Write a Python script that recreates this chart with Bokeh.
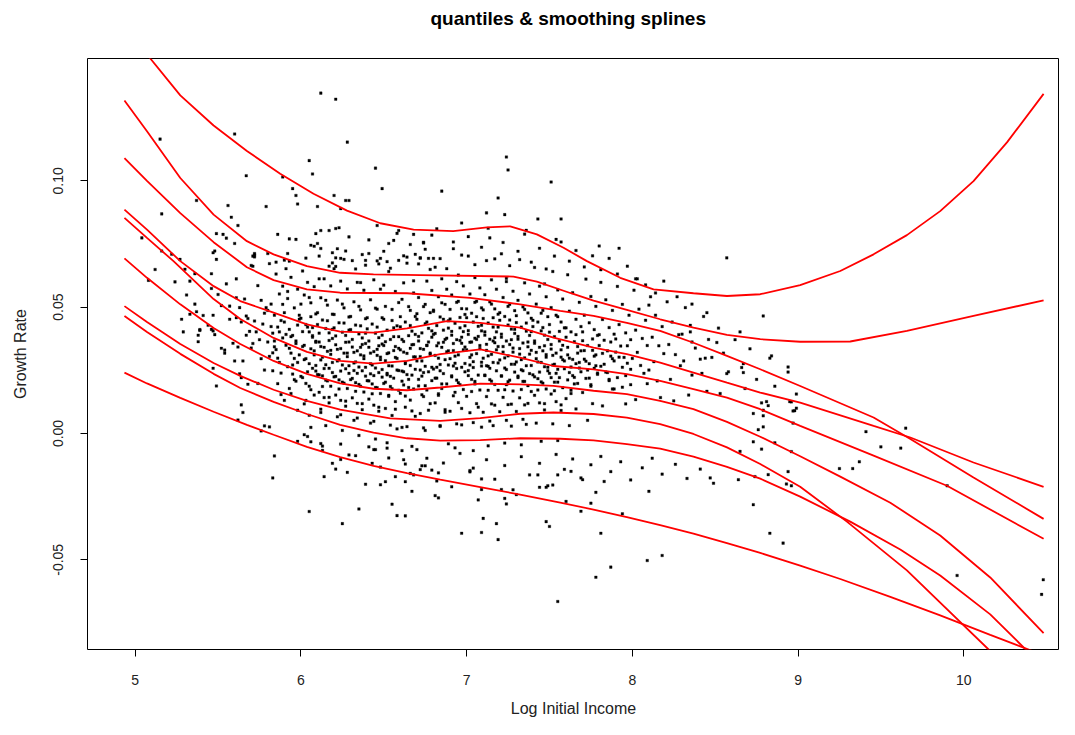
from bokeh.plotting import figure
from bokeh.models import FixedTicker, PrintfTickFormatter
from bokeh.embed import file_html
from bokeh.resources import INLINE

# ---------------- quantile smoothing spline curves ----------------
sa_x = [4.93, 5.091, 5.272, 5.473, 5.674, 5.875, 6.076, 6.278, 6.479, 6.680, 6.919, 7.123, 7.263, 7.424, 7.585,
        7.726, 7.927, 8.128, 8.369, 8.571, 8.772, 9.013, 9.255, 9.456, 9.657, 9.858, 10.059, 10.261, 10.482]
sa_y = [0.1634, 0.1484, 0.1338, 0.1219, 0.1118, 0.1028, 0.0949, 0.0882, 0.0832, 0.0807, 0.0801, 0.0816, 0.0820, 0.0788, 0.0735,
        0.0682, 0.0616, 0.0570, 0.0555, 0.0544, 0.0551, 0.0587, 0.0643, 0.0709, 0.0785, 0.0880, 0.0999, 0.1152, 0.1344]

sb_x = [4.935, 5.071, 5.272, 5.473, 5.674, 5.835, 6.036, 6.237, 6.438, 6.720, 7.283, 7.424, 7.625, 7.766, 7.967,
        8.168, 8.369, 8.571, 8.772, 9.013, 9.315, 9.657, 10.059, 10.482]
sb_y = [0.1318, 0.1196, 0.1011, 0.0866, 0.0761, 0.0709, 0.0662, 0.0636, 0.0630, 0.0627, 0.0621, 0.0601, 0.0556, 0.0526, 0.0489,
        0.0452, 0.0419, 0.0390, 0.0373, 0.0363, 0.0364, 0.0406, 0.0465, 0.0527]

sc_x = [4.935, 5.071, 5.272, 5.473, 5.674, 5.835, 6.036, 6.237, 6.640, 7.022, 7.323, 7.565, 7.766, 7.967, 8.168,
        8.369, 8.571, 8.772, 9.013, 9.456, 9.678, 10.059, 10.482]
sc_y = [0.1090, 0.1000, 0.0872, 0.0757, 0.0658, 0.0607, 0.0570, 0.0557, 0.0555, 0.0537, 0.0511, 0.0485, 0.0465, 0.0438, 0.0406,
        0.0359, 0.0307, 0.0254, 0.0188, 0.0063, -0.0022, -0.0174, -0.0338]

sd_x = [4.935, 5.071, 5.272, 5.473, 5.634, 5.835, 6.036, 6.237, 6.438, 6.640, 6.881, 7.082, 7.323, 7.524, 7.766,
        7.967, 8.168, 8.369, 8.571, 8.772, 9.013, 9.456, 9.678, 10.059, 10.482]
sd_y = [0.0886, 0.0807, 0.0682, 0.0583, 0.0524, 0.0478, 0.0432, 0.0403, 0.0399, 0.0416, 0.0445, 0.0438, 0.0419, 0.0379, 0.0340,
        0.0314, 0.0280, 0.0241, 0.0201, 0.0162, 0.0122, 0.0030, -0.0016, -0.0115, -0.0211]

se_x = [4.935, 5.071, 5.231, 5.473, 5.634, 5.835, 6.036, 6.237, 6.438, 6.640, 6.841, 7.082, 7.323, 7.524, 7.766,
        7.967, 8.168, 8.369, 8.571, 8.772, 9.013, 9.456, 9.899, 10.482]
se_y = [0.0853, 0.0774, 0.0682, 0.0532, 0.0453, 0.0378, 0.0323, 0.0287, 0.0276, 0.0287, 0.0314, 0.0333, 0.0300, 0.0267, 0.0254,
        0.0235, 0.0208, 0.0175, 0.0142, 0.0096, 0.0030, -0.0088, -0.0207, -0.0417]

sf_x = [4.935, 5.071, 5.272, 5.473, 5.634, 5.835, 6.036, 6.237, 6.438, 6.640, 6.841, 7.082, 7.323, 7.524, 7.766,
        7.967, 8.168, 8.369, 8.571, 8.772, 9.013, 9.255, 9.557, 9.858, 10.160, 10.482]
sf_y = [0.0693, 0.0616, 0.0511, 0.0417, 0.0354, 0.0287, 0.0236, 0.0198, 0.0177, 0.0171, 0.0182, 0.0197, 0.0194, 0.0188, 0.0169,
        0.0156, 0.0129, 0.0096, 0.0046, -0.0013, -0.0090, -0.0171, -0.0274, -0.0404, -0.0570, -0.0790]

sg_x = [4.935, 5.071, 5.272, 5.473, 5.634, 5.835, 6.036, 6.237, 6.539, 6.841, 7.082, 7.323, 7.524, 7.766, 7.967,
        8.168, 8.369, 8.571, 8.772, 9.013, 9.295, 9.657, 10.150, 10.482]
sg_y = [0.0504, 0.0441, 0.0354, 0.0279, 0.0228, 0.0173, 0.0129, 0.0094, 0.0060, 0.0050, 0.0061, 0.0078, 0.0083, 0.0077, 0.0063,
        0.0037, -0.0002, -0.0055, -0.0121, -0.0211, -0.0349, -0.0542, -0.0855, -0.1068]

sh_x = [4.935, 5.071, 5.272, 5.473, 5.634, 5.835, 6.036, 6.237, 6.438, 6.640, 6.841, 7.082, 7.323, 7.565, 7.766,
        7.967, 8.168, 8.369, 8.571, 8.772, 9.013, 9.315, 9.617, 9.858, 10.160, 10.482]
sh_y = [0.0465, 0.0402, 0.0315, 0.0236, 0.0180, 0.0125, 0.0077, 0.0034, 0.0003, -0.0019, -0.0028, -0.0026, -0.0019, -0.0021, -0.0027,
        -0.0042, -0.0060, -0.0092, -0.0132, -0.0179, -0.0250, -0.0349, -0.0459, -0.0562, -0.0716, -0.0925]

si_x = [4.935, 5.071, 5.272, 5.473, 5.674, 5.835, 6.036, 6.237, 6.438, 6.640, 6.841, 7.082, 7.323, 7.565, 7.766,
        7.967, 8.168, 8.369, 8.571, 8.772, 9.013, 9.255, 9.557, 9.858, 10.160, 10.482]
si_y = [0.0241, 0.0198, 0.0141, 0.0086, 0.0034, -0.0005, -0.0053, -0.0094, -0.0128, -0.0157, -0.0183, -0.0212, -0.0242, -0.0274, -0.0301,
        -0.0331, -0.0363, -0.0396, -0.0434, -0.0473, -0.0523, -0.0576, -0.0647, -0.0720, -0.0797, -0.0878]

curves = [(sa_x, sa_y), (sb_x, sb_y), (sc_x, sc_y), (sd_x, sd_y), (se_x, se_y),
          (sf_x, sf_y), (sg_x, sg_y), (sh_x, sh_y), (si_x, si_y)]

# ---------------- scatter points: (log income x100, growth x10000) ----------------
core_pts = [
 (561,612),(563,498),(564,441),(566,532),(567,389),(568,455),(562,342),(565,287),(569,404),(563,236),
 (571,702),(574,585),(576,527),(578,476),(572,445),(579,498),(573,402),(575,371),(577,433),(570,338),(576,296),(578,251),(574,198),(571,356),
 (581,672),(585,631),(587,552),(582,512),(589,583),(584,468),(586,421),(588,447),(583,397),(580,362),(589,378),(585,332),(581,305),(587,281),(583,248),(586,197),(588,154),(584,343),
 (591,652),(594,618),(598,571),(592,534),(596,497),(599,468),(590,441),(593,412),(595,388),(597,366),(599,452),(591,349),(594,318),(596,297),(598,281),(592,264),(595,235),(597,207),(593,178),(590,131),(598,92),(594,383),
 (601,643),(604,598),(608,581),(602,548),(606,517),(609,473),(600,456),(603,431),(605,402),(607,387),(609,365),(601,344),(604,421),(606,335),(608,311),(602,292),(605,276),(607,258),(609,247),(600,226),(603,198),(606,173),(608,152),(602,117),(605,72),(609,361),
 (611,702),(614,612),(618,584),(612,537),(616,508),(619,472),(613,449),(610,431),(615,415),(617,398),(619,376),(611,362),(614,341),(616,325),(618,313),(612,291),(615,272),(617,258),(619,241),(610,233),(613,228),(616,208),(618,187),(611,163),(614,142),(617,121),(612,83),(615,31),
 (621,661),(624,603),(628,572),(622,528),(626,497),(629,461),(623,438),(620,418),(625,401),(627,388),(629,362),(621,351),(624,336),(626,318),(628,304),(622,287),(625,271),(627,256),(629,238),(620,224),(623,212),(626,199),(628,178),(621,152),(624,131),(627,108),(622,66),(625,12),
 (631,684),(634,598),(638,567),(632,521),(636,489),(639,454),(633,429),(630,411),(635,394),(637,378),(639,356),(631,342),(634,327),(636,311),(638,296),(632,279),(635,263),(637,248),(639,227),(630,213),(633,201),(636,187),(638,164),(631,141),(634,119),(637,94),(632,52),(635,-8),
 (641,712),(644,608),(648,571),(642,529),(646,492),(649,458),(643,433),(640,414),(645,397),(647,379),(649,354),(641,341),(644,324),(646,309),(648,292),(642,276),(645,259),(647,241),(649,223),(640,209),(643,196),(646,181),(648,158),(641,136),(644,112),(647,88),(642,41),(645,-22),
 (653,641),(650,587),(657,562),(659,518),(651,503),(655,447),(658,426),(652,409),(656,383),(654,372),(650,348),(659,337),(653,319),(657,301),(651,288),(655,267),(658,251),(652,232),(656,219),(650,198),(654,186),(659,171),(653,147),(657,126),(651,99),(655,71),(658,18),(652,-37),
 (664,674),(662,596),(668,556),(661,531),(666,487),(669,463),(663,441),(660,422),(667,405),(665,387),(662,364),(668,352),(660,331),(664,317),(669,303),(663,282),(666,269),(661,247),(667,231),(665,214),(662,192),(668,176),(660,159),(666,132),(663,104),(669,68),(661,24),(667,-51),
 (672,694),(676,603),(679,566),(671,538),(674,502),(678,478),(670,452),(675,434),(677,416),(673,398),(679,381),(671,366),(676,349),(674,333),(678,318),(672,304),(670,287),(675,266),(677,244),(673,227),(679,209),(671,188),(676,172),(674,146),(678,118),(672,79),(675,12),(670,-64),
 (681,658),(685,612),(688,571),(683,541),(687,511),(680,488),(684,461),(689,446),(682,427),(686,409),(680,392),(688,377),(683,358),(685,341),(689,327),(681,309),(687,292),(684,273),(680,255),(686,237),(682,219),(688,196),(685,178),(683,151),(681,121),(687,84),(684,28),(689,-41),
 (692,731),(695,627),(698,584),(691,548),(694,519),(697,494),(699,471),(690,453),(693,436),(696,418),(698,403),(691,389),(694,371),(697,357),(699,342),(692,328),(695,311),(690,296),(693,278),(697,262),(699,244),(691,228),(694,211),(696,193),(698,174),(692,149),(695,122),(690,88),(697,34),(693,-57),
 (701,702),(705,617),(708,576),(702,552),(706,523),(709,497),(703,476),(700,458),(704,441),(707,424),(709,406),(701,392),(705,377),(703,362),(708,348),(700,331),(706,316),(702,301),(704,284),(709,267),(701,249),(707,231),(703,214),(705,196),(708,172),(700,147),(706,118),(702,82),(709,25),(704,-68),
 (712,684),(715,608),(718,571),(711,549),(714,521),(717,493),(719,472),(710,455),(713,437),(716,421),(718,402),(711,389),(714,373),(717,359),(719,344),(712,329),(715,313),(710,298),(716,281),(713,266),(718,248),(711,229),(714,213),(717,194),(719,171),(712,146),(715,117),(710,84),(716,31),(713,-49),
 (721,711),(724,601),(728,563),(722,538),(726,511),(729,486),(723,463),(720,448),(725,429),(727,413),(729,396),(721,381),(724,366),(726,352),(728,338),(722,322),(725,307),(720,291),(727,274),(723,259),(729,243),(721,227),(726,211),(724,193),(728,168),(722,143),(725,114),(720,86),(727,29),(723,-38),
 (732,688),(735,596),(738,552),(731,527),(734,501),(737,477),(739,456),(730,439),(733,421),(736,405),(738,388),(731,373),(734,358),(737,343),(739,329),(732,314),(735,299),(730,283),(736,268),(733,252),(738,237),(731,221),(734,206),(737,189),(739,166),(732,141),(735,113),(730,87),(736,36),(733,-45),
 (741,657),(744,583),(748,541),(742,512),(746,487),(749,462),(743,441),(740,423),(745,406),(747,389),(749,372),(741,357),(744,341),(746,327),(748,312),(742,296),(745,281),(747,264),(749,248),(740,232),(743,217),(746,199),(748,176),(741,151),(744,121),(747,93),(742,41),(745,-31),
 (752,641),(755,568),(758,532),(751,498),(754,468),(757,441),(759,418),(750,401),(753,383),(756,366),(758,349),(751,334),(754,318),(757,302),(759,287),(752,271),(755,254),(750,238),(756,221),(753,203),(758,181),(751,156),(754,126),(757,91),(752,38),(755,-28),
 (761,628),(764,557),(768,519),(762,484),(766,452),(769,423),(763,402),(760,381),(765,363),(767,344),(769,327),(761,311),(764,293),(766,276),(768,259),(762,241),(765,222),(767,198),(763,171),(760,138),(766,97),(762,31),
 (772,611),(775,542),(778,503),(771,468),(774,438),(777,411),(779,388),(770,367),(773,348),(776,329),(778,311),(771,294),(774,276),(777,258),(779,239),(772,218),(775,193),(770,162),(776,118),(773,52),
 (781,598),(784,529),(788,487),(782,451),(786,419),(789,393),(783,369),(780,348),(785,327),(787,306),(789,287),(781,266),(784,243),(786,214),(788,176),(782,109),
 (791,582),(794,511),(798,468),(792,431),(796,398),(799,371),(793,346),(790,322),(795,301),(797,278),(799,254),(791,221),(794,183),(796,117),
 (801,567),(804,492),(808,448),(802,409),(806,376),(809,348),(803,321),(800,297),(805,269),(807,238),(809,197),(802,134),
 (811,541),(814,468),(818,423),(812,381),(816,347),(819,316),(813,284),(810,251),(815,208),(817,142),
 (821,521),(824,441),(828,391),(822,352),(826,312),(829,268),(823,214),(825,129),
 (832,498),(835,402),(838,338),(831,287),(836,231),(834,152),
 (843,463),(846,372),(848,301),(842,238),(845,167),
 (852,417),(855,318),(858,244),(853,158),
 (862,371),(866,261),(868,178),(871,335),(875,214),(878,121),(883,298),(886,187),(894,243),(897,89),
 (531,548),(536,512),(541,467),(544,428),(548,391),(552,506),(557,452),(559,357),(533,603),(546,574),(538,389),(554,318),
]

dense_pts = [
 (580,487),(582,423),(584,366),(586,298),(588,239),(589,511),(583,319),(587,402),
 (590,478),(591,392),(593,337),(595,271),(596,213),(598,429),(599,311),(592,562),(597,356),(594,158),
 (600,512),(601,403),(602,349),(603,296),(604,244),(605,187),(606,462),(607,381),(608,327),(609,269),(601,221),(603,131),(605,538),(607,419),
 (610,478),(611,397),(612,344),(613,302),(614,257),(615,211),(616,446),(617,368),(618,329),(619,281),(611,232),(613,186),(615,527),(617,143),(619,412),(612,96),
 (620,471),(621,386),(622,333),(623,292),(624,247),(625,203),(626,437),(627,361),(628,318),(629,268),(621,226),(623,176),(625,512),(627,128),(629,409),(624,74),
 (630,463),(631,372),(632,321),(633,283),(634,238),(635,194),(636,426),(637,352),(638,307),(639,262),(631,218),(633,167),(635,503),(637,118),(639,397),(634,61),(636,341),(632,249),
 (640,458),(641,366),(642,318),(643,271),(644,229),(645,182),(646,421),(647,347),(648,302),(649,253),(641,208),(643,157),(645,496),(647,104),(649,389),(644,48),(646,333),(642,236),
 (650,452),(651,363),(652,316),(653,268),(654,226),(655,177),(656,418),(657,344),(658,297),(659,249),(651,203),(653,151),(655,491),(657,96),(659,383),(654,33),(656,328),(652,238),
 (660,462),(661,372),(662,322),(663,276),(664,233),(665,182),(666,427),(667,351),(668,303),(669,254),(661,207),(663,148),(665,502),(667,89),(669,392),(664,27),(666,337),(662,244),
 (670,474),(671,384),(672,336),(673,287),(674,241),(675,189),(676,441),(677,362),(678,313),(679,262),(671,214),(673,153),(675,511),(677,92),(679,406),(674,22),(676,348),(672,251),
 (680,483),(681,396),(682,347),(683,298),(684,248),(685,196),(686,452),(687,372),(688,323),(689,271),(681,219),(683,157),(685,517),(687,94),(689,417),(684,31),(686,361),(682,262),
 (690,491),(691,404),(692,356),(693,306),(694,257),(695,201),(696,459),(697,381),(698,331),(699,277),(691,224),(693,163),(695,523),(697,99),(699,426),(694,38),(696,368),(692,267),
 (700,493),(701,407),(702,361),(703,311),(704,261),(705,206),(706,462),(707,384),(708,336),(709,282),(701,229),(703,166),(705,519),(707,104),(709,428),(704,43),(706,372),(702,271),
 (710,489),(711,402),(712,353),(713,307),(714,258),(715,207),(716,458),(717,379),(718,331),(719,279),(711,231),(713,171),(715,512),(717,112),(719,421),(714,49),(716,366),(712,268),
 (720,478),(721,393),(722,344),(723,299),(724,253),(725,205),(726,449),(727,371),(728,322),(729,274),(721,228),(723,173),(725,503),(727,116),(729,412),(724,52),
 (730,466),(731,384),(732,336),(733,292),(734,248),(735,206),(736,437),(737,362),(738,314),(739,269),(731,227),(733,174),(735,491),(737,119),(739,403),(734,56),
 (740,448),(741,366),(742,321),(743,283),(744,243),(745,204),(746,419),(747,347),(748,302),(749,262),(741,224),(743,172),(745,476),(747,118),
 (750,431),(751,352),(752,309),(753,274),(754,238),(755,203),(756,404),(757,331),(758,292),(759,256),(751,221),(753,169),(755,462),(757,113),
 (760,418),(761,341),(762,298),(763,263),(764,229),(765,196),(766,391),(767,318),(768,281),(769,244),(761,212),(763,158),
 (770,402),(771,328),(772,286),(773,251),(774,219),(775,187),(776,374),(777,306),(778,268),(779,234),
 (780,391),(782,317),(783,274),(785,241),(786,209),(787,362),(788,296),(789,176),
 (790,374),(792,302),(794,262),(796,229),(797,347),(799,193),
]

upper_pts = [
 (592,712),(597,768),(603,694),(608,741),(612,803),(617,662),(622,731),(626,689),(629,778),(633,651),(637,708),(641,766),
 (646,683),(650,721),(654,654),(658,792),(662,703),(666,748),(671,671),(675,729),(679,785),(684,692),(688,652),(692,758),
 (697,706),(701,779),(705,668),(709,737),(713,812),(717,691),(722,756),(726,664),(731,721),(735,789),(739,678),(744,733),
 (748,651),(753,702),(757,758),(762,682),(766,724),(771,659),(776,703),(781,648),(786,693),(791,631),(797,662),(803,612),
 (808,588),(814,556),(819,603),(827,541),(836,512),(845,478),(611,612),(636,597),(668,604),(694,601),(724,614),(747,592),
]

lower_pts = [
 (598,-31),(604,-12),(613,-67),(619,-118),(624,-42),(628,-154),(633,-88),(639,-201),(644,-64),(648,-133),(653,-97),(657,-171),
 (663,-121),(667,-229),(672,-143),(676,-98),(682,-188),(686,-117),(691,-211),(696,-79),(702,-152),(707,-263),(712,-104),(717,-181),
 (723,-127),(728,-223),(733,-92),(738,-164),(744,-118),(749,-207),(754,-83),(759,-142),(764,-101),(769,-176),(775,-124),(781,-91),
 (787,-151),(793,-112),(799,-184),(806,-136),(812,-98),(818,-161),(826,-122),(833,-178),(841,-141),(849,-197),
]

outlier_pts = [
 (515,1165),(516,869),(504,774),(516,722),(522,709),(527,689),(512,649),(537,922),(530,650),(556,902),(560,1185),(567,1020),
 (562,823),(558,856),(549,791),(553,788),(555,773),(560,752),(547,715),(549,689),(572,712),(570,665),(580,712),(585,678),
 (579,898),(589,1015),(595,969),(597,942),(598,908),(605,1080),(607,1027),(612,1347),(621,1323),(628,1153),(645,1050),(649,969),
 (610,898),(620,942),(627,922),(629,922),(624,890),(586,788),(593,770),(609,791),(606,745),(610,752),(612,732),(617,803),
 (621,811),(623,814),(646,823),(659,803),(653,752),(656,764),(668,788),(674,754),(682,810),(619,715),(621,695),(624,693),
 (627,722),(619,675),(620,652),(639,685),(639,666),(647,671),(648,693),(652,680),(659,685),(664,698),(669,709),(672,695),
 (677,693),(680,693),(678,649),(572,699),(590,686),(593,682),
 (724,1094),(725,1043),(751,995),(685,959),(719,932),(712,873),(723,866),(697,833),(743,849),(757,849),(857,695),(879,465),
 (802,612),(792,733),(780,742),(754,768),(736,804),(714,774),(674,757),
 (884,307),(894,263),(865,402),(851,360),(835,428),(867,276),(810,508),(830,393),(836,362),(841,294),(844,298),(857,237),
 (881,126),(895,126),(879,92),
 (867,241),(882,110),(896,125),(899,156),(899,100),(898,90),(897,41),(873,79),(879,70),(876,15),(879,26),(873,-33),
 (878,-62),(886,-37),(865,-71),(896,-72),(894,-151),(882,-163),(874,-171),(893,-200),(896,-207),(873,-282),(883,-395),(891,-434),
 (941,7),(950,-53),(962,-58),(965,21),(925,-139),(933,-139),(937,-112),(990,-207),(996,-562),(1048,-579),(1047,-637),
 (781,-395),(787,-529),(778,-569),(809,-503),(818,-483),(810,-229),(794,-318),(775,-276),(760,-269),(769,-308),(763,-150),
 (770,-183),(783,-190),(778,-233),(847,-176),(864,-183),(755,-665),
 (697,-395),(709,-392),(719,-420),(718,-357),(710,-336),(748,-349),(750,-368),
 (681,-246),(683,-255),(709,-222),(721,-222),(724,-279),(730,-242),(744,-213),(748,-213),(752,-204),
 (704,-137),(702,-147),(709,-180),(723,-257),(743,-164),(755,-164),
 (605,-309),(625,-357),(635,-299),(655,-280),(658,-325),(663,-326),(583,-176),(584,-89),(614,-171),(621,-141),(629,-85),
 (643,-118),(648,-203),(651,-191),(663,-191),(662,-104),(666,-158),(668,-164),(673,-128),(675,-128),(679,-145),(683,-156),
 (661,-68),(624,-103),(613,-50),(606,-33),(641,-53),(645,-64),(652,-58),
 (564,113),(565,83),(578,30),(581,26),(576,10),(602,-5),(612,-40),(606,24),
 (549,188),(547,258),(552,337),(554,330),(538,363),(529,402),(528,452),(533,472),(539,408),(539,411),(546,412),(547,406),
 (537,482),(524,600),(508,606),(536,632),(546,632),(550,550),(547,468),(555,592),(561,537),(557,504),(561,458),(567,465),
 (560,287),(564,221),(562,53),(568,195),(571,662),(572,706),(548,722),
]

all_pts = core_pts + dense_pts + upper_pts + lower_pts + outlier_pts
log_income = [a / 100.0 for a, b in all_pts]
growth = [b / 10000.0 for a, b in all_pts]

title_text = "quantiles  &  smoothing splines"

# ---------------- figure ----------------
p = figure(width=1059, height=719, x_range=(4.712, 10.578), y_range=(-0.0855, 0.1484),
           output_backend="svg", toolbar_location=None,
           min_border_left=87, min_border_right=0, min_border_top=57, min_border_bottom=70,
           background_fill_color="white", border_fill_color="white")

p.scatter(log_income, growth, marker="square", size=2.6, fill_color="black",
          line_color="black", line_width=0.3)

for cx, cy in curves:
    p.line(cx, cy, line_color="#ff0000", line_width=1.8)

p.grid.visible = False
p.outline_line_color = "black"
p.outline_line_width = 1
p.outline_line_alpha = 1

p.xaxis.ticker = FixedTicker(ticks=[5, 6, 7, 8, 9, 10])
p.yaxis.ticker = FixedTicker(ticks=[-0.05, 0.0, 0.05, 0.10])
p.yaxis.formatter = PrintfTickFormatter(format="%.2f")
p.yaxis.major_label_orientation = "vertical"

for ax in (p.xaxis[0], p.yaxis[0]):
    ax.axis_line_color = None
    ax.minor_tick_line_color = None
    ax.major_tick_in = 0
    ax.major_tick_out = 7
    ax.major_tick_line_color = "black"
    ax.major_label_text_font = "Liberation Sans"
    ax.major_label_text_font_size = "14px"
    ax.major_label_text_color = "#222222"
    ax.axis_label_text_font = "Liberation Sans"
    ax.axis_label_text_font_size = "16px"
    ax.axis_label_text_font_style = "normal"
    ax.axis_label_text_color = "#222222"

p.xaxis.axis_label = "Log Initial Income"
p.yaxis.axis_label = "Growth Rate"
p.xaxis.major_label_standoff = 18
p.xaxis.axis_label_standoff = 12
p.yaxis.major_label_standoff = 17
p.yaxis.axis_label_standoff = 22

# title: an empty second line lifts the text towards the top of the page
p.title.text = title_text + "\n"
p.title.align = "center"
p.title.vertical_align = "top"
p.title.standoff = 14
p.title.offset = 12
p.title.text_font = "Liberation Sans"
p.title.text_font_size = "19px"
p.title.text_font_style = "bold"
p.title.text_color = "black"

open("out.html", "w").write(file_html(p, INLINE))
